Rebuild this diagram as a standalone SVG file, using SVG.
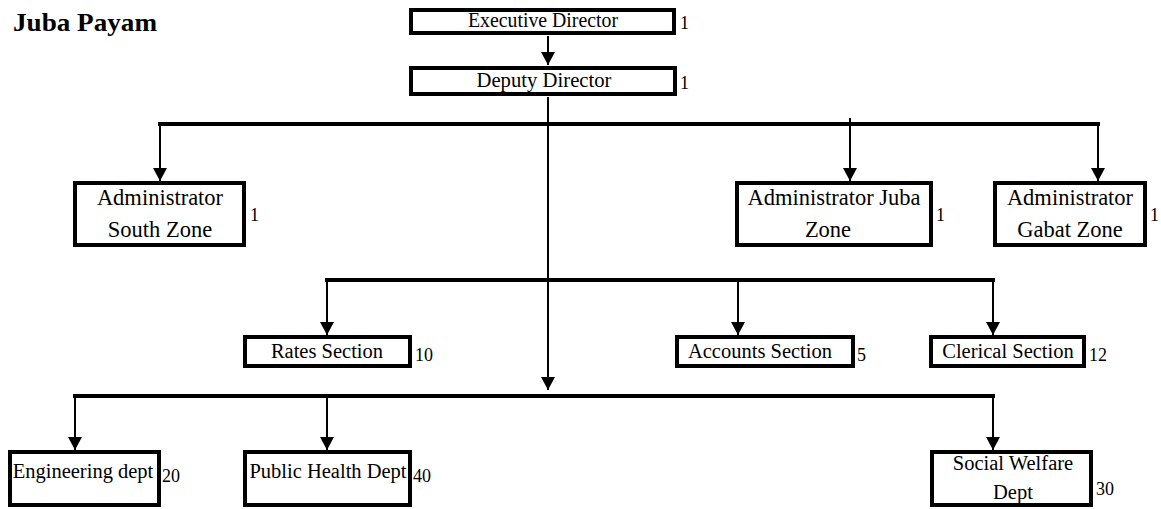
<svg xmlns="http://www.w3.org/2000/svg" width="1161" height="509" viewBox="0 0 1161 509">
  <style>
    .box { fill: #ffffff; stroke: #000000; stroke-width: 4; }
    .lbl { font-family: "Liberation Serif", "Times New Roman", serif; font-size: 20.5px; fill: #000000; text-anchor: middle; }
    .big { font-size: 22.5px; }
    .num { font-family: "Liberation Serif", "Times New Roman", serif; font-size: 18px; fill: #000000; }
    .title { font-family: "Liberation Serif", "Times New Roman", serif; font-size: 26px; font-weight: bold; fill: #000000; }
    .bar { stroke: #000000; stroke-width: 4; fill: none; }
    .drop { stroke: #000000; stroke-width: 2; fill: none; marker-end: url(#arrow); }
  </style>
  <defs>
    <marker id="arrow" markerUnits="userSpaceOnUse" markerWidth="14" markerHeight="14" viewBox="0 0 14 14" refX="13" refY="7" orient="auto">
      <path d="M0,0 L13,7 L0,14 Z" fill="#000000"/>
    </marker>
  </defs>

  <rect width="1161" height="509" fill="#ffffff"/>

  <text class="title" x="13" y="31" textLength="144" lengthAdjust="spacingAndGlyphs">Juba Payam</text>

  <!-- connectors -->
  <g id="connectors">
    <line class="drop" x1="548" y1="36" x2="548" y2="65"/>
    <line class="drop" x1="548" y1="97" x2="548" y2="390"/>
    <!-- zone level -->
    <line class="bar" x1="158" y1="124" x2="1100" y2="124"/>
    <line class="drop" x1="160" y1="124" x2="160" y2="181"/>
    <line class="drop" x1="850" y1="118" x2="850" y2="181"/>
    <line class="drop" x1="1098" y1="124" x2="1098" y2="181"/>
    <!-- section level -->
    <line class="bar" x1="325" y1="280" x2="995" y2="280"/>
    <line class="drop" x1="327" y1="280" x2="327" y2="335"/>
    <line class="drop" x1="738" y1="280" x2="738" y2="335"/>
    <line class="drop" x1="993" y1="280" x2="993" y2="335"/>
    <!-- department level -->
    <line class="bar" x1="73" y1="396" x2="995" y2="396"/>
    <line class="drop" x1="75" y1="396" x2="75" y2="450"/>
    <line class="drop" x1="327" y1="396" x2="327" y2="450"/>
    <line class="drop" x1="993" y1="396" x2="993" y2="450"/>
  </g>

  <g id="executive-director">
    <rect class="box" x="411" y="10" width="263" height="23"/>
    <text class="lbl" x="543" y="27" textLength="150" lengthAdjust="spacingAndGlyphs">Executive Director</text>
    <text class="num" x="680" y="29">1</text>
  </g>

  <g id="deputy-director">
    <rect class="box" x="411" y="68" width="264" height="26"/>
    <text class="lbl" x="544" y="87" textLength="135" lengthAdjust="spacingAndGlyphs">Deputy Director</text>
    <text class="num" x="680" y="89">1</text>
  </g>

  <g id="admin-south-zone">
    <rect class="box" x="75" y="183" width="169" height="62"/>
    <text class="lbl big" x="160" y="205">Administrator</text>
    <text class="lbl big" x="160" y="237">South Zone</text>
    <text class="num" x="250" y="221">1</text>
  </g>

  <g id="admin-juba-zone">
    <rect class="box" x="737" y="183" width="194" height="62"/>
    <text class="lbl big" x="834" y="205">Administrator Juba</text>
    <text class="lbl big" x="828" y="237">Zone</text>
    <text class="num" x="936" y="221">1</text>
  </g>

  <g id="admin-gabat-zone">
    <rect class="box" x="995" y="183" width="150" height="62"/>
    <text class="lbl big" x="1070" y="205">Administrator</text>
    <text class="lbl big" x="1070" y="237">Gabat Zone</text>
    <text class="num" x="1150" y="221">1</text>
  </g>

  <g id="rates-section">
    <rect class="box" x="245" y="337" width="165" height="29"/>
    <text class="lbl" x="327" y="358">Rates Section</text>
    <text class="num" x="415" y="361">10</text>
  </g>

  <g id="accounts-section">
    <rect class="box" x="677" y="337" width="176" height="29"/>
    <text class="lbl" x="760" y="358">Accounts Section</text>
    <text class="num" x="857" y="361">5</text>
  </g>

  <g id="clerical-section">
    <rect class="box" x="931" y="337" width="153" height="29"/>
    <text class="lbl" x="1008" y="358">Clerical Section</text>
    <text class="num" x="1089" y="361">12</text>
  </g>

  <g id="engineering-dept">
    <rect class="box" x="10" y="452" width="149" height="53"/>
    <text class="lbl" x="83" y="478">Engineering dept</text>
    <text class="num" x="162" y="482">20</text>
  </g>

  <g id="public-health-dept">
    <rect class="box" x="245" y="452" width="165" height="53"/>
    <text class="lbl" x="328" y="478">Public Health Dept</text>
    <text class="num" x="413" y="482">40</text>
  </g>

  <g id="social-welfare-dept">
    <rect class="box" x="932" y="452" width="159" height="53"/>
    <text class="lbl" x="1013" y="470">Social Welfare</text>
    <text class="lbl" x="1013" y="499">Dept</text>
    <text class="num" x="1096" y="495">30</text>
  </g>
</svg>
